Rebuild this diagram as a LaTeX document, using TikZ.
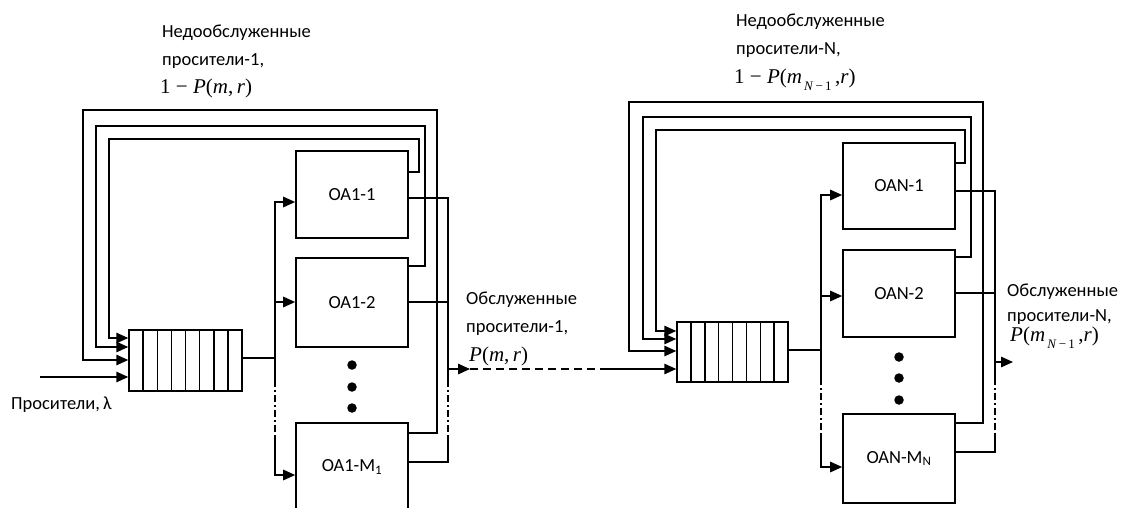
\documentclass[tikz,border=0pt]{standalone}
\usepackage{fontspec}
\setmainfont{Carlito}
\newfontfamily\tnr{Liberation Serif}
\usetikzlibrary{arrows.meta}
\tikzset{
 ln/.style={line width=1.5pt},
 arr/.style={ln,-{Triangle[length=12pt,width=10.5pt]}},
 dd/.style={ln, dash pattern=on 7pt off 3pt on 2pt off 3pt},
 dsh/.style={ln, dash pattern=on 8pt off 5pt},
 oabox/.style={draw,line width=1.7pt,minimum width=112pt,inner sep=0pt,font=\fontsize{18.5}{20}\selectfont},
 qbox/.style={draw,line width=1.5pt,inner sep=0pt},
 txt/.style={anchor=west,inner sep=0pt,font=\fontsize{18.5}{20}\selectfont},
 fml/.style={anchor=west,inner sep=0pt,font=\tnr\fontsize{21}{22}\selectfont},
 dot/.style={circle,fill,minimum size=9.5pt,inner sep=0pt},
}
\newcommand{\subNm}{\raisebox{-7pt}{\fontsize{13}{13}\selectfont\,\textit{N}\,−\,1}}
\begin{document}
\begin{tikzpicture}[x=1pt,y=-1pt]
\useasboundingbox (0,0) rectangle (1126,507);
\clip (0,0) rectangle (1126,507);
% ---------- left stage ----------
\node[oabox,minimum height=87pt] (A1) at (352,194.5) {ОА1-1};
\node[oabox,minimum height=89pt] (A2) at (352,302.5) {ОА1-2};
\node[oabox,minimum height=88pt] (AM) at (352,467) {ОА1-M\textsubscript{1}};
\node[qbox,minimum width=113pt,minimum height=61pt] (Q1) at (185.5,360.5) {};
\foreach \i in {1,...,7} \draw[ln] (129+\i*14.125,330) -- (129+\i*14.125,391);
\node[dot] (a1) at (352,365) {};
\node[dot] (a2) at (352,387) {};
\node[dot] (a3) at (352,408) {};
% feedback loops
\draw[arr] (A1.east |- 0,172) -| (419,139) -| (109,338) -- (Q1.west |- 0,338);
\draw[arr] (A2.east |- 0,266) -| (425,126) -| (96,347) -- (Q1.west |- 0,347);
\draw[arr] (AM.east |- 0,433) -| (437,110) -| (83,360) -- (Q1.west |- 0,360);
% input
\coordinate (in1) at (40,377);
\draw[arr] (in1) -- (Q1.west |- in1);
% queue to servers
\coordinate (b1) at (275,358);
\draw[ln] (Q1.east |- b1) -- (b1);
\draw[arr] (b1) -- (275,202) -- (A1.west |- 0,202);
\draw[arr] (275,302) -- (A2.west |- 0,302);
\draw[ln] (b1) -- (275,380);
\draw[dd] (275,380) -- (275,437);
\draw[arr] (275,437) |- (AM.west |- 0,475);
% outputs
\draw[ln] (A1.east |- 0,198) -| (448,380);
\draw[ln] (A2.east |- 0,302) -- (448,302);
\draw[ln] (AM.east |- 0,462) -| (448,437);
\draw[dd] (448,380) -- (448,437);
\coordinate (o1) at (448,369);
\coordinate (o1t) at (470,369);
\coordinate (o1d) at (600,369);
\draw[arr] (o1) -- (o1t);
\draw[dsh] (o1t) -- (o1d);
% ---------- right stage ----------
\node[oabox,minimum height=86pt] (B1) at (899,186) {ОАN-1};
\node[oabox,minimum height=87pt] (B2) at (899,293.5) {ОАN-2};
\node[oabox,minimum height=89pt] (BM) at (899,458.5) {ОАN-M\textsubscript{N}};
\node[qbox,minimum width=111pt,minimum height=60pt] (Q2) at (732.5,352) {};
\foreach \i in {1,...,7} \draw[ln] (677+\i*13.875,322) -- (677+\i*13.875,382);
\node[dot] (c1) at (899,357) {};
\node[dot] (c2) at (899,378) {};
\node[dot] (c3) at (899,400) {};
\draw[arr] (o1d) -- (Q2.west |- o1d);
% feedback loops
\draw[arr] (B1.east |- 0,163) -| (965,130) -| (656,331) -- (Q2.west |- 0,331);
\draw[arr] (B2.east |- 0,257) -| (971,117) -| (643,339) -- (Q2.west |- 0,339);
\draw[arr] (BM.east |- 0,423) -| (983,102) -| (629,351) -- (Q2.west |- 0,351);
% queue to servers
\coordinate (b2) at (821,350);
\draw[ln] (Q2.east |- b2) -- (b2);
\draw[arr] (b2) -- (821,195) -- (B1.west |- 0,195);
\draw[arr] (821,296) -- (B2.west |- 0,296);
\draw[ln] (b2) -- (821,378);
\draw[dd] (821,378) -- (821,435);
\draw[arr] (821,435) |- (BM.west |- 0,467);
% outputs
\draw[ln] (B1.east |- 0,191) -| (995,378);
\draw[ln] (B2.east |- 0,293) -- (995,293);
\draw[ln] (BM.east |- 0,452) -| (995,435);
\draw[dd] (995,378) -- (995,435);
\coordinate (o2) at (995,362);
\coordinate (o2t) at (1013,362);
\draw[arr] (o2) -- (o2t);
% ---------- texts ----------
\node[txt] (t1) at (162,33) {Недообслуженные};
\node[txt] (t2) at (162,61) {просители-1,};
\node[fml] (t3) at (160,88) {1 − \textit{P}(\textit{m},\,\textit{r})};
\node[txt] (t4) at (736,22) {Недообслуженные};
\node[txt] (t5) at (736,50) {просители-N,};
\node[fml] (t6) at (734,80) {1 − \textit{P}(\textit{m}\subNm\,,\textit{r})};
\node[txt] (t7) at (466,300) {Обслуженные};
\node[txt] (t8) at (466,328) {просители-1,};
\node[fml] (t9) at (469,356) {\textit{P}(\textit{m},\,\textit{r})};
\node[txt] (t10) at (1007,292) {Обслуженные};
\node[txt] (t11) at (1007,317) {просители-N,};
\node[fml] (t12) at (1010,338) {\textit{P}(\textit{m}\subNm\,,\textit{r})};
\node[txt] (t13) at (11,405) {Просители,\,λ};
\end{tikzpicture}
\end{document}
